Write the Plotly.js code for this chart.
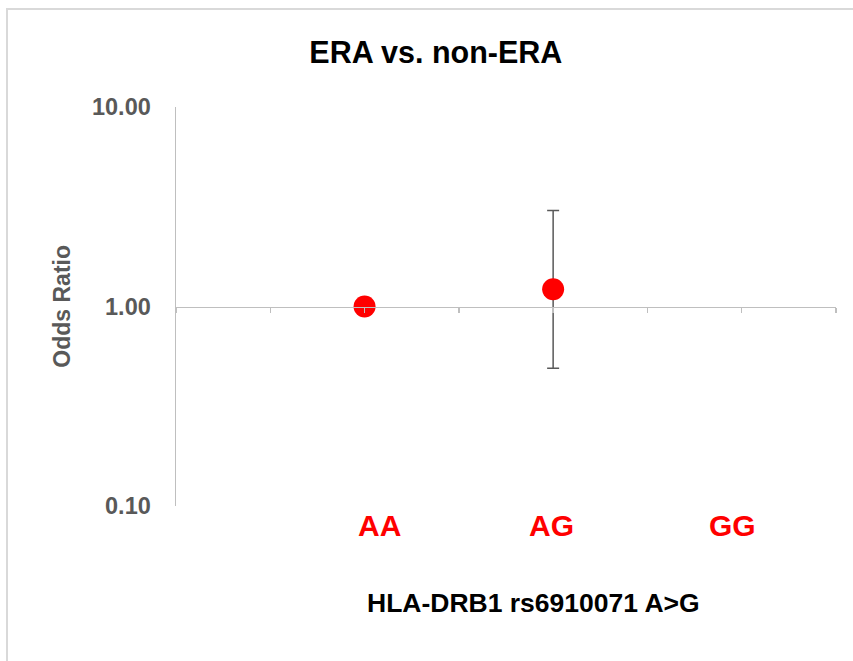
<!DOCTYPE html>
<html>
<head>
<meta charset="utf-8">
<script src="https://cdn.plot.ly/plotly-3.0.1.min.js"></script>
<style>
  html, body { margin: 0; padding: 0; background: #fff; overflow: hidden; }
  #chart { position: absolute; left: 0; top: 0; width: 853px; height: 661px; }
  #frame { position: absolute; left: 6px; top: 8px; width: 1000px; height: 1000px;
           border-left: 2px solid #d9d9d9; border-top: 2px solid #d9d9d9; pointer-events: none; }
</style>
</head>
<body>
<div id="chart"></div>
<div id="frame"></div>
<script>
// Data
const categories = ["AA", "AG", "GG"];
const oddsRatio = [1.00, 1.22, null];
const ciUpper = [1.00, 3.03, null];
const ciLower = [1.00, 0.49, null];
const yTickVals = [0.1, 1, 10];
const yTickText = ["0.10", "1.00", "10.00"];

const xPos = categories.map((c, i) => 2 * (i + 1));
const errPlus = oddsRatio.map((v, i) => v == null ? null : ciUpper[i] - v);
const errMinus = oddsRatio.map((v, i) => v == null ? null : v - ciLower[i]);

const font = "Liberation Sans, Arial, sans-serif";

const trace = {
  x: xPos,
  y: oddsRatio,
  type: "scatter",
  mode: "markers",
  marker: { color: "#ff0000", size: 22 },
  error_y: {
    type: "data", symmetric: false,
    array: errPlus, arrayminus: errMinus,
    color: "#595959", thickness: 1.5, width: 6
  },
  cliponaxis: false,
  hoverinfo: "skip"
};

const catAnnotations = categories.map((c, i) => ({
  x: xPos[i], xref: "x", y: -0.048, yref: "paper",
  text: "<b>" + c + "</b>", showarrow: false,
  xanchor: "center", yanchor: "middle",
  xshift: [15, -2, -9][i],
  font: { family: font, size: 30, color: "#ff0000" }
}));

const layout = {
  width: 853, height: 661,
  margin: { l: 176, r: 17, t: 107, b: 155 },
  paper_bgcolor: "#ffffff", plot_bgcolor: "#ffffff",
  showlegend: false,
  title: {
    text: "<b>ERA vs. non-ERA</b>",
    x: 0.511, xref: "container", xanchor: "center",
    y: 0.921, yref: "container", yanchor: "middle",
    font: { family: font, size: 30.5, color: "#000000" }
  },
  xaxis: {
    range: [0, 7],
    anchor: "free", position: 0.5,
    tickvals: [0, 1, 2, 3, 4, 5, 6, 7],
    showticklabels: false,
    ticks: "outside", ticklen: 5, tickwidth: 1.5, tickcolor: "#bfbfbf",
    showline: true, linecolor: "#bfbfbf", linewidth: 1.5,
    showgrid: false, zeroline: false, fixedrange: true
  },
  yaxis: {
    type: "log", range: [-1, 1], domain: [0, 1],
    tickvals: yTickVals, ticktext: yTickText,
    ticks: "", ticklabelstandoff: 19,
    tickfont: { family: font, size: 23.5, color: "#595959", weight: "bold" },
    showline: true, linecolor: "#bfbfbf", linewidth: 1.5,
    showgrid: false, zeroline: false, fixedrange: true
  },
  annotations: catAnnotations.concat([
    {
      x: 0.541, xref: "paper", y: -0.243, yref: "paper",
      text: "<b>HLA-DRB1 rs6910071 A>G</b>", showarrow: false,
      xanchor: "center", yanchor: "middle",
      font: { family: font, size: 26.5, color: "#000000" }
    },
    {
      x: -0.174, xref: "paper", y: 0.5, yref: "paper",
      text: "<b>Odds Ratio</b>", showarrow: false, textangle: -90,
      xanchor: "center", yanchor: "middle",
      font: { family: font, size: 23, color: "#595959" }
    }
  ])
};

Plotly.newPlot("chart", [trace], layout, { displayModeBar: false, staticPlot: true });
</script>
</body>
</html>
